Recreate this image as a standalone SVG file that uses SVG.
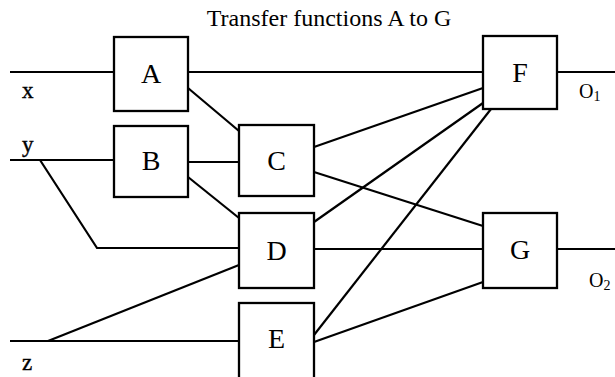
<svg xmlns="http://www.w3.org/2000/svg" width="615" height="377" viewBox="0 0 615 377">
<style>
.box{fill:#fff;stroke:#000;stroke-width:2.3}
.ln{fill:none;stroke:#000;stroke-width:2.2}
.lbl{font-family:"Liberation Serif","Times New Roman",serif;font-size:28px;text-anchor:middle;fill:#000}
.io{font-family:"Liberation Serif","Times New Roman",serif;font-size:23px;fill:#000;stroke:#000;stroke-width:0.4}
.out{font-family:"Liberation Serif","Times New Roman",serif;font-size:20px;fill:#000}
.title{font-family:"Liberation Serif","Times New Roman",serif;font-size:24px;text-anchor:middle;fill:#000}
</style>
<rect width="615" height="377" fill="#fff"/>
<text class="title" x="329" y="26">Transfer functions A to G</text>
<g id="connectors">
<path class="ln" d="M10 72 H114"/>
<path class="ln" d="M188 72 H483"/>
<path class="ln" d="M557 72 H615"/>
<path class="ln" d="M10 160 H114"/>
<path class="ln" d="M188 162 H239"/>
<path class="ln" d="M40 160 L97 248 H239"/>
<path class="ln" d="M188 88 L239 131"/>
<path class="ln" d="M188 177 L239 218"/>
<path class="ln" d="M10 341 H239"/>
<path class="ln" d="M48 341 L239 265"/>
<path class="ln" d="M314 147 L483 88"/>
<path class="ln" d="M314 172 L483 226"/>
<path class="ln" d="M314 222 L483 103"/>
<path class="ln" d="M314 335 L491 109"/>
<path class="ln" d="M314 249 H483"/>
<path class="ln" d="M314 342 L483 282"/>
<path class="ln" d="M557 249 H615"/>
</g>
<g id="A"><rect class="box" x="114" y="37" width="74" height="74"/><text class="lbl" x="151" y="83">A</text></g>
<g id="B"><rect class="box" x="114" y="126" width="74" height="71"/><text class="lbl" x="151" y="170">B</text></g>
<g id="C"><rect class="box" x="239" y="125" width="75" height="71"/><text class="lbl" x="276.5" y="169.5">C</text></g>
<g id="D"><rect class="box" x="239" y="213" width="75" height="75"/><text class="lbl" x="276.5" y="259.5">D</text></g>
<g id="E"><rect class="box" x="239" y="303" width="75" height="90"/><text class="lbl" x="276.5" y="348">E</text></g>
<g id="F"><rect class="box" x="483" y="36" width="74" height="73"/><text class="lbl" x="520" y="82">F</text></g>
<g id="G"><rect class="box" x="483" y="213" width="74" height="75"/><text class="lbl" x="520" y="259">G</text></g>
<g id="inputs">
<text class="io" x="22" y="98">x</text>
<text class="io" x="22" y="152">y</text>
<text class="io" x="22" y="370">z</text>
</g>
<g id="outputs">
<text class="out" x="579" y="98">O<tspan font-size="14" dy="3">1</tspan></text>
<text class="out" x="589" y="287">O<tspan font-size="14" dy="3">2</tspan></text>
</g>
</svg>
